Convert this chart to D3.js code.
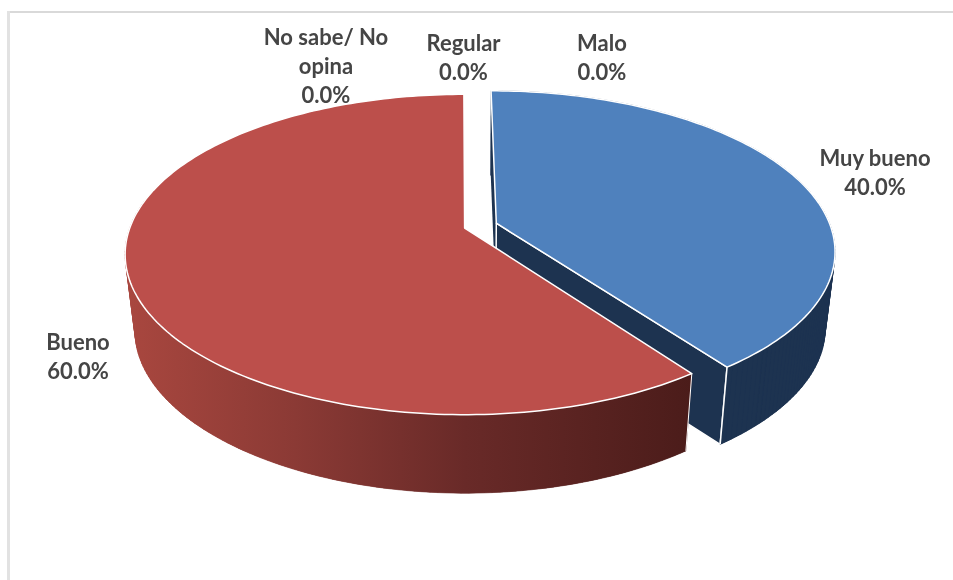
<!DOCTYPE html>
<html>
<head>
<meta charset="utf-8">
<script src="https://cdn.jsdelivr.net/npm/d3@7/dist/d3.min.js"></script>
<style>
html,body{margin:0;padding:0;background:#fff;}
svg{display:block;}
</style>
</head>
<body>
<svg id="chart" width="953" height="580"></svg>
<script>
const categories = ["Muy bueno", "Bueno", "No sabe/ No opina", "Regular", "Malo"];
const values = [40, 60, 0, 0, 0];
const topColors = ["#4f81bd", "#bc4f4b"];
const labelLines = [["Muy bueno"], ["Bueno"], ["No sabe/ No", "opina"], ["Regular"], ["Malo"]];

const W = 953, H = 580;
const labelPos = [[875, 158], [78, 342], [326, 37], [463.5, 43], [602, 43]];
const cx = 480.5, cy = 225.6, bx = 334, ay = 155, persp = 0.165, perspLow = 0.19, skew = 3, explode = 0.05;
const depthScale = 0.972, depthShift = 78, lineH = 29;

const svg = d3.select("#chart");
const defs = svg.append("defs");
const grad = defs.append("linearGradient").attr("id", "redSide")
  .attr("gradientUnits", "userSpaceOnUse").attr("x1", 125).attr("x2", 692).attr("y1", 0).attr("y2", 0);
[[0, "#a9473f"], [0.3, "#8b3a35"], [0.6, "#692a28"], [1, "#4b1c1a"]].forEach(s =>
  grad.append("stop").attr("offset", s[0]).attr("stop-color", s[1]));
defs.append("filter").attr("id", "soft").append("feGaussianBlur").attr("stdDeviation", 0.35);

// frame
svg.append("line").attr("x1", 8).attr("x2", W).attr("y1", 12).attr("y2", 12)
  .attr("stroke", "#d9d9d9").attr("stroke-width", 2);
svg.append("line").attr("x1", 8.5).attr("x2", 8.5).attr("y1", 11).attr("y2", H)
  .attr("stroke", "#e2e2e2").attr("stroke-width", 3);

const pieGen = d3.pie().value(d => d).sort(null);
const arcs = pieGen(values);

function project(X, Y, low) {
  const w = 1 - persp * Y;
  let x = bx * X / w + skew * Y, y = ay * Y / w;
  if (low) { x *= depthScale; y = ay * Y / (1 - perspLow * Y) * depthScale + depthShift; }
  return [cx + x, cy + y];
}
function rim(a, ang, low) {
  const m = (a.startAngle + a.endAngle) / 2;
  return project(explode * Math.sin(m) + Math.sin(ang), -explode * Math.cos(m) - Math.cos(ang), low);
}
function apex(a, low) {
  const m = (a.startAngle + a.endAngle) / 2;
  return project(explode * Math.sin(m), -explode * Math.cos(m), low);
}
const line = d3.line();
const angles = a => {
  const n = Math.ceil((a.endAngle - a.startAngle) / 0.02);
  return d3.range(n + 1).map(i => a.startAngle + (a.endAngle - a.startAngle) * i / n);
};

function drawSlice(a, i) {
  if (a.value <= 0) return;
  const g = svg.append("g").attr("class", "slice");
  const sideFill = i === 0 ? "#1d3350" : "url(#redSide)";
  const as = angles(a);
  // radial cut faces (the blue slice shows both; the red ones stay hidden)
  if (i === 0) {
    g.append("path").attr("d", line([apex(a), rim(a, a.startAngle), rim(a, a.startAngle, true), apex(a, true)]) + "Z")
      .attr("fill", "#1d3350");
    g.append("path").attr("d", line([apex(a), rim(a, a.endAngle), rim(a, a.endAngle, true), apex(a, true)]) + "Z")
      .attr("fill", "#1d3350").attr("stroke", "#fff").attr("stroke-width", 1.5).attr("stroke-linejoin", "round");
  }
  // outer wall: only the part that can be seen from the front
  const front = i === 0 ? as : as.filter(t => Math.cos(t) < 0.2);
  const wall = front.map(t => rim(a, t)).concat(front.slice().reverse().map(t => rim(a, t, true)));
  g.append("path").attr("d", line(wall) + "Z").attr("fill", sideFill);
  front.slice(1).forEach((t, k) => {
    const q = [rim(a, front[k]), rim(a, t), rim(a, t, true), rim(a, front[k], true)];
    g.append("path").attr("d", line(q) + "Z").attr("fill", sideFill).attr("stroke", sideFill).attr("stroke-width", 0.6);
  });
  // edge of the wall at the front tip
  const tipAngle = i === 0 ? a.endAngle : a.startAngle;
  g.append("path").attr("d", line([rim(a, tipAngle), rim(a, tipAngle, true)]))
    .attr("stroke", "#fff").attr("stroke-width", i === 0 ? 1.5 : 1).attr("fill", "none");
  // top face
  const top = [apex(a)].concat(as.map(t => rim(a, t)));
  g.append("path").attr("d", line(top) + "Z")
    .attr("fill", topColors[i]).attr("stroke", "#fff").attr("stroke-width", 1.5).attr("stroke-linejoin", "round");
}
drawSlice(arcs[0], 0);
drawSlice(arcs[1], 1);

const total = d3.sum(values);
const fmt = d3.format(".1%");
const labels = svg.append("g").attr("font-family", "Lato, 'Open Sans', sans-serif")
  .attr("font-weight", 700).attr("font-size", 22).attr("fill", "#454545").attr("text-anchor", "middle")
  .attr("filter", "url(#soft)");
categories.forEach((c, i) => {
  const lines = labelLines[i].concat(fmt(values[i] / total));
  const [lx, ly] = labelPos[i];
  lines.forEach((t, k) => labels.append("text").attr("x", lx).attr("y", ly + k * lineH)
    .attr("dy", "0.35em").text(t));
});
</script>
</body>
</html>
